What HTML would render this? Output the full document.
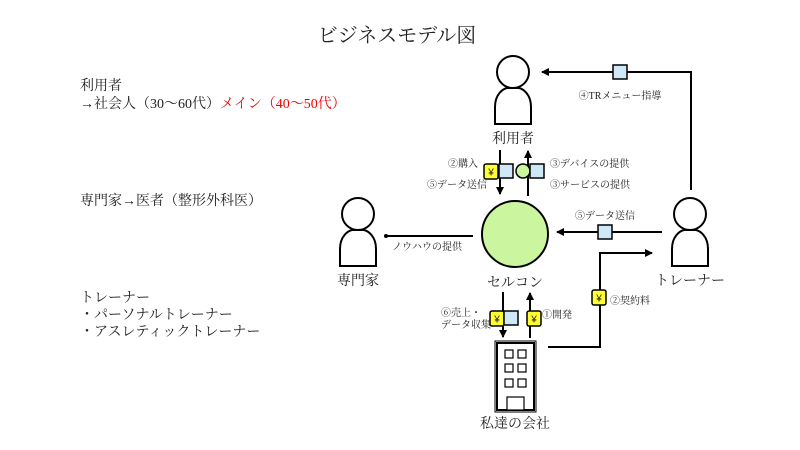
<!DOCTYPE html>
<html><head><meta charset="utf-8"><style>
html,body{margin:0;padding:0;background:#fff}
svg{display:block}
text{font-family:"Liberation Serif","Noto Serif CJK SC",serif;fill:#222}
.s{font-size:10px}
</style></head><body>
<svg width="800" height="450" viewBox="0 0 800 450" xmlns="http://www.w3.org/2000/svg">
<defs>
<marker id="a" markerWidth="8" markerHeight="8" refX="7" refY="4" orient="auto" markerUnits="userSpaceOnUse"><path d="M0,0 L8,4 L0,8 z" fill="#000"/></marker>
<g id="p"><circle cx="0" cy="0" r="16" fill="#fff" stroke="#000" stroke-width="2"/><path d="M-18,52 L-18,35 C-18,22 -10,17 -6,16 L6,16 C10,17 18,22 18,35 L18,52 Z" fill="#fff" stroke="#000" stroke-width="2"/></g>
<g id="y"><rect x="0" y="0" width="14" height="15" rx="2" fill="#ffff33" stroke="#000" stroke-width="1.5"/><text x="7" y="11.5" text-anchor="middle" style="font-size:10px;font-family:'Liberation Sans',sans-serif">¥</text></g>
<rect id="b" x="0" y="0" width="14" height="14" fill="#cfe8f8" stroke="#000" stroke-width="1.5"/>
</defs>
<text x="397" y="42" text-anchor="middle" style="font-size:20px">ビジネスモデル図</text>
<g style="font-size:14px">
<text x="80" y="90">利用者</text>
<text x="80" y="108">→社会人（30～60代）<tspan fill="#e00" style="fill:#e00">メイン（40～50代）</tspan></text>
<text x="80" y="205">専門家→医者（整形外科医）</text>
<text x="80" y="302">トレーナー</text>
<text x="80" y="319">・パーソナルトレーナー</text>
<text x="80" y="336">・アスレティックトレーナー</text>
</g>
<use href="#p" x="513" y="72"/>
<text x="513" y="143" text-anchor="middle" style="font-size:14px">利用者</text>
<use href="#p" x="358" y="214"/>
<text x="358" y="285" text-anchor="middle" style="font-size:14px">専門家</text>
<use href="#p" x="690" y="214"/>
<text x="690" y="285" text-anchor="middle" style="font-size:14px">トレーナー</text>
<circle cx="515" cy="234" r="33" fill="#ccf5a0" stroke="#000" stroke-width="2"/>
<text x="515" y="287" text-anchor="middle" style="font-size:14px">セルコン</text>
<!-- top arrows -->
<line x1="500" y1="150" x2="500" y2="194" stroke="#000" stroke-width="2" marker-end="url(#a)"/>
<line x1="528" y1="196" x2="528" y2="151" stroke="#000" stroke-width="2" marker-end="url(#a)"/>
<use href="#y" x="484" y="164"/><use href="#b" x="499" y="164"/>
<circle cx="523" cy="171" r="7" fill="#ccf5a0" stroke="#000" stroke-width="1.5"/><use href="#b" x="530" y="164"/>
<text class="s" x="478" y="167" text-anchor="end">②購入</text>
<text class="s" x="487" y="188" text-anchor="end">⑤データ送信</text>
<text class="s" x="550" y="167">③デバイスの提供</text>
<text class="s" x="550" y="188">③サービスの提供</text>
<!-- trainer to circle -->
<line x1="662" y1="232" x2="557" y2="232" stroke="#000" stroke-width="2" marker-end="url(#a)"/>
<use href="#b" x="598" y="225"/>
<text class="s" x="605" y="219" text-anchor="middle">⑤データ送信</text>
<!-- circle to expert -->
<line x1="473" y1="236" x2="386" y2="236" stroke="#000" stroke-width="2"/>
<circle cx="386" cy="236" r="2" fill="#000"/>
<text class="s" x="392" y="250">ノウハウの提供</text>
<!-- bottom arrows -->
<line x1="503" y1="292" x2="503" y2="337" stroke="#000" stroke-width="2" marker-end="url(#a)"/>
<line x1="530" y1="338" x2="530" y2="293" stroke="#000" stroke-width="2" marker-end="url(#a)"/>
<use href="#y" x="490" y="311"/><use href="#b" x="504" y="311"/>
<use href="#y" x="527" y="311"/>
<text class="s" x="441" y="316">⑥売上・</text>
<text class="s" x="441" y="328">データ収集</text>
<text class="s" x="542" y="318">①開発</text>
<!-- building -->
<rect x="497" y="343" width="37" height="67" fill="#fff" stroke="#000" stroke-width="2"/>
<rect x="495" y="341" width="41" height="71" fill="none" stroke="#000" stroke-width="1"/>
<g fill="#fff" stroke="#000" stroke-width="1.2">
<rect x="505" y="350" width="8" height="8"/><rect x="518" y="350" width="8" height="8"/>
<rect x="505" y="364" width="8" height="8"/><rect x="518" y="364" width="8" height="8"/>
<rect x="505" y="379" width="8" height="8"/><rect x="518" y="379" width="8" height="8"/>
<rect x="507" y="397" width="17" height="13"/>
</g>
<text x="515" y="428" text-anchor="middle" style="font-size:14px">私達の会社</text>
<!-- company to trainer -->
<polyline points="548,347 600,347 600,253 652,253" fill="none" stroke="#000" stroke-width="2" marker-end="url(#a)"/>
<use href="#y" x="592" y="290"/>
<text class="s" x="610" y="304">②契約料</text>
<!-- trainer to user -->
<polyline points="691,190 691,72 542,72" fill="none" stroke="#000" stroke-width="2" marker-end="url(#a)"/>
<use href="#b" x="613" y="65"/>
<text class="s" x="620" y="99" text-anchor="middle">④TRメニュー指導</text>
</svg>
</body></html>
